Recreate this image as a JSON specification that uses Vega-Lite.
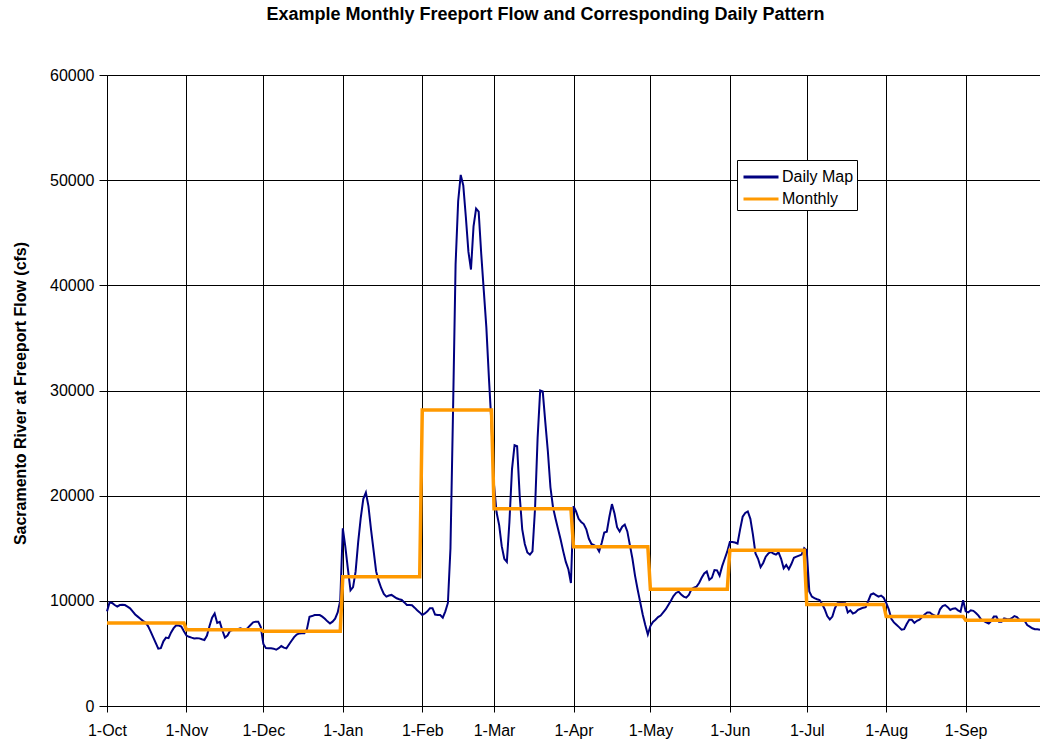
{
"$schema": "https://vega.github.io/schema/vega-lite/v6.json",
"width": 933, "height": 631,
"autosize": {"type": "none"},
"padding": {"left": 107, "top": 75, "right": 0, "bottom": 38},
"background": "white",
"title": {"text": "Example Monthly Freeport Flow and Corresponding Daily Pattern", "font": "Liberation Sans", "fontSize": 18, "fontWeight": "bold", "color": "black", "anchor": "middle", "dx": -28, "offset": 43},
"config": {"view": {"stroke": null}},
"datasets": {
"daily": [
{"date":"2001-10-01","flow":9000},{"date":"2001-10-02","flow":9850},{"date":"2001-10-03","flow":9800},{"date":"2001-10-04","flow":9600},{"date":"2001-10-05","flow":9450},{"date":"2001-10-06","flow":9600},{"date":"2001-10-07","flow":9620},{"date":"2001-10-08","flow":9600},{"date":"2001-10-09","flow":9450},{"date":"2001-10-10","flow":9290},{"date":"2001-10-11","flow":9000},{"date":"2001-10-12","flow":8700},{"date":"2001-10-13","flow":8500},{"date":"2001-10-14","flow":8300},{"date":"2001-10-15","flow":8100},{"date":"2001-10-16","flow":7950},{"date":"2001-10-17","flow":7600},{"date":"2001-10-18","flow":7100},{"date":"2001-10-19","flow":6550},{"date":"2001-10-20","flow":6000},{"date":"2001-10-21","flow":5450},{"date":"2001-10-22","flow":5500},{"date":"2001-10-23","flow":6150},{"date":"2001-10-24","flow":6500},{"date":"2001-10-25","flow":6450},{"date":"2001-10-26","flow":7000},{"date":"2001-10-27","flow":7400},{"date":"2001-10-28","flow":7680},{"date":"2001-10-29","flow":7650},{"date":"2001-10-30","flow":7550},{"date":"2001-10-31","flow":7100},
{"date":"2001-11-01","flow":6700},{"date":"2001-11-02","flow":6580},{"date":"2001-11-03","flow":6500},{"date":"2001-11-04","flow":6430},{"date":"2001-11-05","flow":6450},{"date":"2001-11-06","flow":6430},{"date":"2001-11-07","flow":6350},{"date":"2001-11-08","flow":6280},{"date":"2001-11-09","flow":6700},{"date":"2001-11-10","flow":7600},{"date":"2001-11-11","flow":8400},{"date":"2001-11-12","flow":8800},{"date":"2001-11-13","flow":7900},{"date":"2001-11-14","flow":8000},{"date":"2001-11-15","flow":7200},{"date":"2001-11-16","flow":6500},{"date":"2001-11-17","flow":6700},{"date":"2001-11-18","flow":7150},{"date":"2001-11-19","flow":7230},{"date":"2001-11-20","flow":7230},{"date":"2001-11-21","flow":7300},{"date":"2001-11-22","flow":7390},{"date":"2001-11-23","flow":7300},{"date":"2001-11-24","flow":7230},{"date":"2001-11-25","flow":7450},{"date":"2001-11-26","flow":7700},{"date":"2001-11-27","flow":7950},{"date":"2001-11-28","flow":8020},{"date":"2001-11-29","flow":8020},{"date":"2001-11-30","flow":7500},
{"date":"2001-12-01","flow":5900},{"date":"2001-12-02","flow":5500},{"date":"2001-12-03","flow":5480},{"date":"2001-12-04","flow":5480},{"date":"2001-12-05","flow":5450},{"date":"2001-12-06","flow":5350},{"date":"2001-12-07","flow":5500},{"date":"2001-12-08","flow":5700},{"date":"2001-12-09","flow":5550},{"date":"2001-12-10","flow":5480},{"date":"2001-12-11","flow":5850},{"date":"2001-12-12","flow":6200},{"date":"2001-12-13","flow":6550},{"date":"2001-12-14","flow":6800},{"date":"2001-12-15","flow":6900},{"date":"2001-12-16","flow":6910},{"date":"2001-12-17","flow":6910},{"date":"2001-12-18","flow":7300},{"date":"2001-12-19","flow":8490},{"date":"2001-12-20","flow":8550},{"date":"2001-12-21","flow":8650},{"date":"2001-12-22","flow":8650},{"date":"2001-12-23","flow":8650},{"date":"2001-12-24","flow":8500},{"date":"2001-12-25","flow":8300},{"date":"2001-12-26","flow":8050},{"date":"2001-12-27","flow":7850},{"date":"2001-12-28","flow":8020},{"date":"2001-12-29","flow":8300},{"date":"2001-12-30","flow":8900},{"date":"2001-12-31","flow":10000},
{"date":"2002-01-01","flow":16900},{"date":"2002-01-02","flow":15100},{"date":"2002-01-03","flow":13000},{"date":"2002-01-04","flow":11000},{"date":"2002-01-05","flow":11300},{"date":"2002-01-06","flow":12800},{"date":"2002-01-07","flow":15600},{"date":"2002-01-08","flow":17900},{"date":"2002-01-09","flow":19700},{"date":"2002-01-10","flow":20300},{"date":"2002-01-11","flow":19000},{"date":"2002-01-12","flow":16800},{"date":"2002-01-13","flow":14800},{"date":"2002-01-14","flow":12800},{"date":"2002-01-15","flow":11900},{"date":"2002-01-16","flow":11200},{"date":"2002-01-17","flow":10650},{"date":"2002-01-18","flow":10400},{"date":"2002-01-19","flow":10500},{"date":"2002-01-20","flow":10560},{"date":"2002-01-21","flow":10400},{"date":"2002-01-22","flow":10240},{"date":"2002-01-23","flow":10150},{"date":"2002-01-24","flow":10080},{"date":"2002-01-25","flow":9850},{"date":"2002-01-26","flow":9600},{"date":"2002-01-27","flow":9600},{"date":"2002-01-28","flow":9580},{"date":"2002-01-29","flow":9350},{"date":"2002-01-30","flow":9100},{"date":"2002-01-31","flow":8900},
{"date":"2002-02-01","flow":8650},{"date":"2002-02-02","flow":8800},{"date":"2002-02-03","flow":9000},{"date":"2002-02-04","flow":9300},{"date":"2002-02-05","flow":9300},{"date":"2002-02-06","flow":8700},{"date":"2002-02-07","flow":8650},{"date":"2002-02-08","flow":8650},{"date":"2002-02-09","flow":8400},{"date":"2002-02-10","flow":9000},{"date":"2002-02-11","flow":9800},{"date":"2002-02-12","flow":15000},{"date":"2002-02-13","flow":28000},{"date":"2002-02-14","flow":42000},{"date":"2002-02-15","flow":48000},{"date":"2002-02-16","flow":50500},{"date":"2002-02-17","flow":49500},{"date":"2002-02-18","flow":46500},{"date":"2002-02-19","flow":43200},{"date":"2002-02-20","flow":41500},{"date":"2002-02-21","flow":45600},{"date":"2002-02-22","flow":47300},{"date":"2002-02-23","flow":47000},{"date":"2002-02-24","flow":43000},{"date":"2002-02-25","flow":39500},{"date":"2002-02-26","flow":36000},{"date":"2002-02-27","flow":31200},{"date":"2002-02-28","flow":26800},
{"date":"2002-03-01","flow":21000},{"date":"2002-03-02","flow":18400},{"date":"2002-03-03","flow":17200},{"date":"2002-03-04","flow":15200},{"date":"2002-03-05","flow":14000},{"date":"2002-03-06","flow":13700},{"date":"2002-03-07","flow":17500},{"date":"2002-03-08","flow":22500},{"date":"2002-03-09","flow":24800},{"date":"2002-03-10","flow":24700},{"date":"2002-03-11","flow":20000},{"date":"2002-03-12","flow":16800},{"date":"2002-03-13","flow":15400},{"date":"2002-03-14","flow":14600},{"date":"2002-03-15","flow":14400},{"date":"2002-03-16","flow":14700},{"date":"2002-03-17","flow":18800},{"date":"2002-03-18","flow":25500},{"date":"2002-03-19","flow":30000},{"date":"2002-03-20","flow":29900},{"date":"2002-03-21","flow":27000},{"date":"2002-03-22","flow":24200},{"date":"2002-03-23","flow":20800},{"date":"2002-03-24","flow":18900},{"date":"2002-03-25","flow":17800},{"date":"2002-03-26","flow":16800},{"date":"2002-03-27","flow":15800},{"date":"2002-03-28","flow":14700},{"date":"2002-03-29","flow":13700},{"date":"2002-03-30","flow":13000},{"date":"2002-03-31","flow":11700},
{"date":"2002-04-01","flow":19000},{"date":"2002-04-02","flow":18500},{"date":"2002-04-03","flow":17800},{"date":"2002-04-04","flow":17500},{"date":"2002-04-05","flow":17300},{"date":"2002-04-06","flow":16800},{"date":"2002-04-07","flow":15900},{"date":"2002-04-08","flow":15400},{"date":"2002-04-09","flow":15300},{"date":"2002-04-10","flow":15150},{"date":"2002-04-11","flow":14700},{"date":"2002-04-12","flow":15500},{"date":"2002-04-13","flow":16500},{"date":"2002-04-14","flow":16580},{"date":"2002-04-15","flow":18000},{"date":"2002-04-16","flow":19200},{"date":"2002-04-17","flow":18300},{"date":"2002-04-18","flow":17000},{"date":"2002-04-19","flow":16600},{"date":"2002-04-20","flow":17050},{"date":"2002-04-21","flow":17250},{"date":"2002-04-22","flow":16600},{"date":"2002-04-23","flow":15300},{"date":"2002-04-24","flow":14000},{"date":"2002-04-25","flow":12400},{"date":"2002-04-26","flow":11100},{"date":"2002-04-27","flow":9900},{"date":"2002-04-28","flow":8700},{"date":"2002-04-29","flow":7700},{"date":"2002-04-30","flow":6800},
{"date":"2002-05-01","flow":7600},{"date":"2002-05-02","flow":8000},{"date":"2002-05-03","flow":8200},{"date":"2002-05-04","flow":8450},{"date":"2002-05-05","flow":8600},{"date":"2002-05-06","flow":8900},{"date":"2002-05-07","flow":9200},{"date":"2002-05-08","flow":9600},{"date":"2002-05-09","flow":10000},{"date":"2002-05-10","flow":10450},{"date":"2002-05-11","flow":10750},{"date":"2002-05-12","flow":10870},{"date":"2002-05-13","flow":10600},{"date":"2002-05-14","flow":10400},{"date":"2002-05-15","flow":10300},{"date":"2002-05-16","flow":10550},{"date":"2002-05-17","flow":11100},{"date":"2002-05-18","flow":11250},{"date":"2002-05-19","flow":11350},{"date":"2002-05-20","flow":11700},{"date":"2002-05-21","flow":12200},{"date":"2002-05-22","flow":12600},{"date":"2002-05-23","flow":12800},{"date":"2002-05-24","flow":12000},{"date":"2002-05-25","flow":12200},{"date":"2002-05-26","flow":12930},{"date":"2002-05-27","flow":12900},{"date":"2002-05-28","flow":12400},{"date":"2002-05-29","flow":13300},{"date":"2002-05-30","flow":14000},{"date":"2002-05-31","flow":14700},
{"date":"2002-06-01","flow":15600},{"date":"2002-06-02","flow":15600},{"date":"2002-06-03","flow":15550},{"date":"2002-06-04","flow":15450},{"date":"2002-06-05","flow":16800},{"date":"2002-06-06","flow":18000},{"date":"2002-06-07","flow":18350},{"date":"2002-06-08","flow":18500},{"date":"2002-06-09","flow":17800},{"date":"2002-06-10","flow":16300},{"date":"2002-06-11","flow":14500},{"date":"2002-06-12","flow":14000},{"date":"2002-06-13","flow":13200},{"date":"2002-06-14","flow":13600},{"date":"2002-06-15","flow":14200},{"date":"2002-06-16","flow":14500},{"date":"2002-06-17","flow":14650},{"date":"2002-06-18","flow":14500},{"date":"2002-06-19","flow":14400},{"date":"2002-06-20","flow":14600},{"date":"2002-06-21","flow":14000},{"date":"2002-06-22","flow":13100},{"date":"2002-06-23","flow":13400},{"date":"2002-06-24","flow":13000},{"date":"2002-06-25","flow":13500},{"date":"2002-06-26","flow":14100},{"date":"2002-06-27","flow":14200},{"date":"2002-06-28","flow":14300},{"date":"2002-06-29","flow":14400},{"date":"2002-06-30","flow":15000},
{"date":"2002-07-01","flow":14800},{"date":"2002-07-02","flow":10900},{"date":"2002-07-03","flow":10400},{"date":"2002-07-04","flow":10250},{"date":"2002-07-05","flow":10150},{"date":"2002-07-06","flow":10080},{"date":"2002-07-07","flow":9700},{"date":"2002-07-08","flow":9200},{"date":"2002-07-09","flow":8550},{"date":"2002-07-10","flow":8240},{"date":"2002-07-11","flow":8500},{"date":"2002-07-12","flow":9300},{"date":"2002-07-13","flow":9780},{"date":"2002-07-14","flow":9800},{"date":"2002-07-15","flow":9800},{"date":"2002-07-16","flow":9770},{"date":"2002-07-17","flow":8900},{"date":"2002-07-18","flow":9100},{"date":"2002-07-19","flow":8800},{"date":"2002-07-20","flow":8900},{"date":"2002-07-21","flow":9150},{"date":"2002-07-22","flow":9250},{"date":"2002-07-23","flow":9350},{"date":"2002-07-24","flow":9400},{"date":"2002-07-25","flow":10000},{"date":"2002-07-26","flow":10600},{"date":"2002-07-27","flow":10700},{"date":"2002-07-28","flow":10550},{"date":"2002-07-29","flow":10400},{"date":"2002-07-30","flow":10500},{"date":"2002-07-31","flow":10300},
{"date":"2002-08-01","flow":9800},{"date":"2002-08-02","flow":9200},{"date":"2002-08-03","flow":8300},{"date":"2002-08-04","flow":7950},{"date":"2002-08-05","flow":7720},{"date":"2002-08-06","flow":7500},{"date":"2002-08-07","flow":7250},{"date":"2002-08-08","flow":7300},{"date":"2002-08-09","flow":7800},{"date":"2002-08-10","flow":8200},{"date":"2002-08-11","flow":8200},{"date":"2002-08-12","flow":7900},{"date":"2002-08-13","flow":8100},{"date":"2002-08-14","flow":8200},{"date":"2002-08-15","flow":8450},{"date":"2002-08-16","flow":8700},{"date":"2002-08-17","flow":8900},{"date":"2002-08-18","flow":8900},{"date":"2002-08-19","flow":8700},{"date":"2002-08-20","flow":8600},{"date":"2002-08-21","flow":8500},{"date":"2002-08-22","flow":9200},{"date":"2002-08-23","flow":9500},{"date":"2002-08-24","flow":9600},{"date":"2002-08-25","flow":9400},{"date":"2002-08-26","flow":9130},{"date":"2002-08-27","flow":9250},{"date":"2002-08-28","flow":9290},{"date":"2002-08-29","flow":9100},{"date":"2002-08-30","flow":8970},{"date":"2002-08-31","flow":10050},
{"date":"2002-09-01","flow":9000},{"date":"2002-09-02","flow":8900},{"date":"2002-09-03","flow":9100},{"date":"2002-09-04","flow":9050},{"date":"2002-09-05","flow":8850},{"date":"2002-09-06","flow":8600},{"date":"2002-09-07","flow":8250},{"date":"2002-09-08","flow":8100},{"date":"2002-09-09","flow":7950},{"date":"2002-09-10","flow":7850},{"date":"2002-09-11","flow":8100},{"date":"2002-09-12","flow":8500},{"date":"2002-09-13","flow":8500},{"date":"2002-09-14","flow":8000},{"date":"2002-09-15","flow":8000},{"date":"2002-09-16","flow":8330},{"date":"2002-09-17","flow":8280},{"date":"2002-09-18","flow":8240},{"date":"2002-09-19","flow":8350},{"date":"2002-09-20","flow":8550},{"date":"2002-09-21","flow":8450},{"date":"2002-09-22","flow":8180},{"date":"2002-09-23","flow":8180},{"date":"2002-09-24","flow":8100},{"date":"2002-09-25","flow":7700},{"date":"2002-09-26","flow":7550},{"date":"2002-09-27","flow":7390},{"date":"2002-09-28","flow":7300},{"date":"2002-09-29","flow":7290},{"date":"2002-09-30","flow":7250}
],
"monthly": [
{"date":"2001-10-01","flow":7900},{"date":"2001-10-31","flow":7900},
{"date":"2001-11-01","flow":7250},{"date":"2001-11-30","flow":7250},
{"date":"2001-12-01","flow":7100},{"date":"2001-12-31","flow":7100},
{"date":"2002-01-01","flow":12300},{"date":"2002-01-31","flow":12300},
{"date":"2002-02-01","flow":28150},{"date":"2002-02-28","flow":28150},
{"date":"2002-03-01","flow":18750},{"date":"2002-03-31","flow":18750},
{"date":"2002-04-01","flow":15150},{"date":"2002-04-30","flow":15150},
{"date":"2002-05-01","flow":11100},{"date":"2002-05-31","flow":11100},
{"date":"2002-06-01","flow":14800},{"date":"2002-06-30","flow":14800},
{"date":"2002-07-01","flow":9650},{"date":"2002-07-31","flow":9650},
{"date":"2002-08-01","flow":8500},{"date":"2002-08-31","flow":8500},
{"date":"2002-09-01","flow":8150},{"date":"2002-09-30","flow":8150}
]
},
"encoding": {
"x": {"field": "date", "type": "temporal",
 "scale": {"type": "utc", "domain": [{"year": 2001, "month": 10, "date": 1, "utc": true}, {"year": 2002, "month": 9, "date": 30, "utc": true}]},
 "axis": {"title": null, "values": [
  {"year": 2001, "month": 10, "date": 1, "utc": true}, {"year": 2001, "month": 11, "date": 1, "utc": true}, {"year": 2001, "month": 12, "date": 1, "utc": true},
  {"year": 2002, "month": 1, "date": 1, "utc": true}, {"year": 2002, "month": 2, "date": 1, "utc": true}, {"year": 2002, "month": 3, "date": 1, "utc": true},
  {"year": 2002, "month": 4, "date": 1, "utc": true}, {"year": 2002, "month": 5, "date": 1, "utc": true}, {"year": 2002, "month": 6, "date": 1, "utc": true},
  {"year": 2002, "month": 7, "date": 1, "utc": true}, {"year": 2002, "month": 8, "date": 1, "utc": true}, {"year": 2002, "month": 9, "date": 1, "utc": true}],
  "labelExpr": "utcFormat(datum.value, '%-d-%b')", "labelFlush": false, "labelOverlap": false,
  "tickSize": 6, "tickColor": "black", "domainColor": "black", "grid": true, "gridColor": "black", "gridOpacity": 1, "gridWidth": 1,
  "labelFont": "Liberation Sans", "labelFontSize": 16, "labelColor": "black", "labelPadding": 10}},
"y": {"field": "flow", "type": "quantitative",
 "scale": {"domain": [0, 60000], "nice": false},
 "axis": {"title": "Sacramento River at Freeport Flow (cfs)", "values": [0, 10000, 20000, 30000, 40000, 50000, 60000], "format": "d",
  "tickSize": 8, "tickColor": "black", "domainColor": "black", "grid": true, "gridColor": "black", "gridOpacity": 1, "gridWidth": 1,
  "labelFont": "Liberation Sans", "labelFontSize": 16, "labelColor": "black", "labelPadding": 5,
  "titleFont": "Liberation Sans", "titleFontSize": 16, "titleFontWeight": "bold", "titleColor": "black",
  "titleX": -87, "titleY": 318, "titleAngle": -90, "titleAlign": "center", "titleBaseline": "middle"}}
},
"layer": [
{"data": {"name": "daily"}, "mark": {"type": "line", "strokeWidth": 2},
 "encoding": {"color": {"datum": "Daily Map", "type": "nominal",
   "scale": {"domain": ["Daily Map", "Monthly"], "range": ["#000080", "#FF9900"]},
   "legend": {"title": null, "orient": "none", "legendX": 630, "legendY": 85, "direction": "vertical",
     "fillColor": "white", "strokeColor": "black", "padding": 3, "symbolType": "M-1.4,0H1.4", "symbolSize": 625, "symbolStrokeWidth": 3, "symbolOffset": 7,
     "labelFont": "Liberation Sans", "labelFontSize": 16, "labelColor": "black", "labelOffset": 7, "rowPadding": 0}}}},
{"data": {"name": "monthly"}, "mark": {"type": "line", "strokeWidth": 3.5},
 "encoding": {"color": {"datum": "Monthly", "type": "nominal"}}}
]
}
